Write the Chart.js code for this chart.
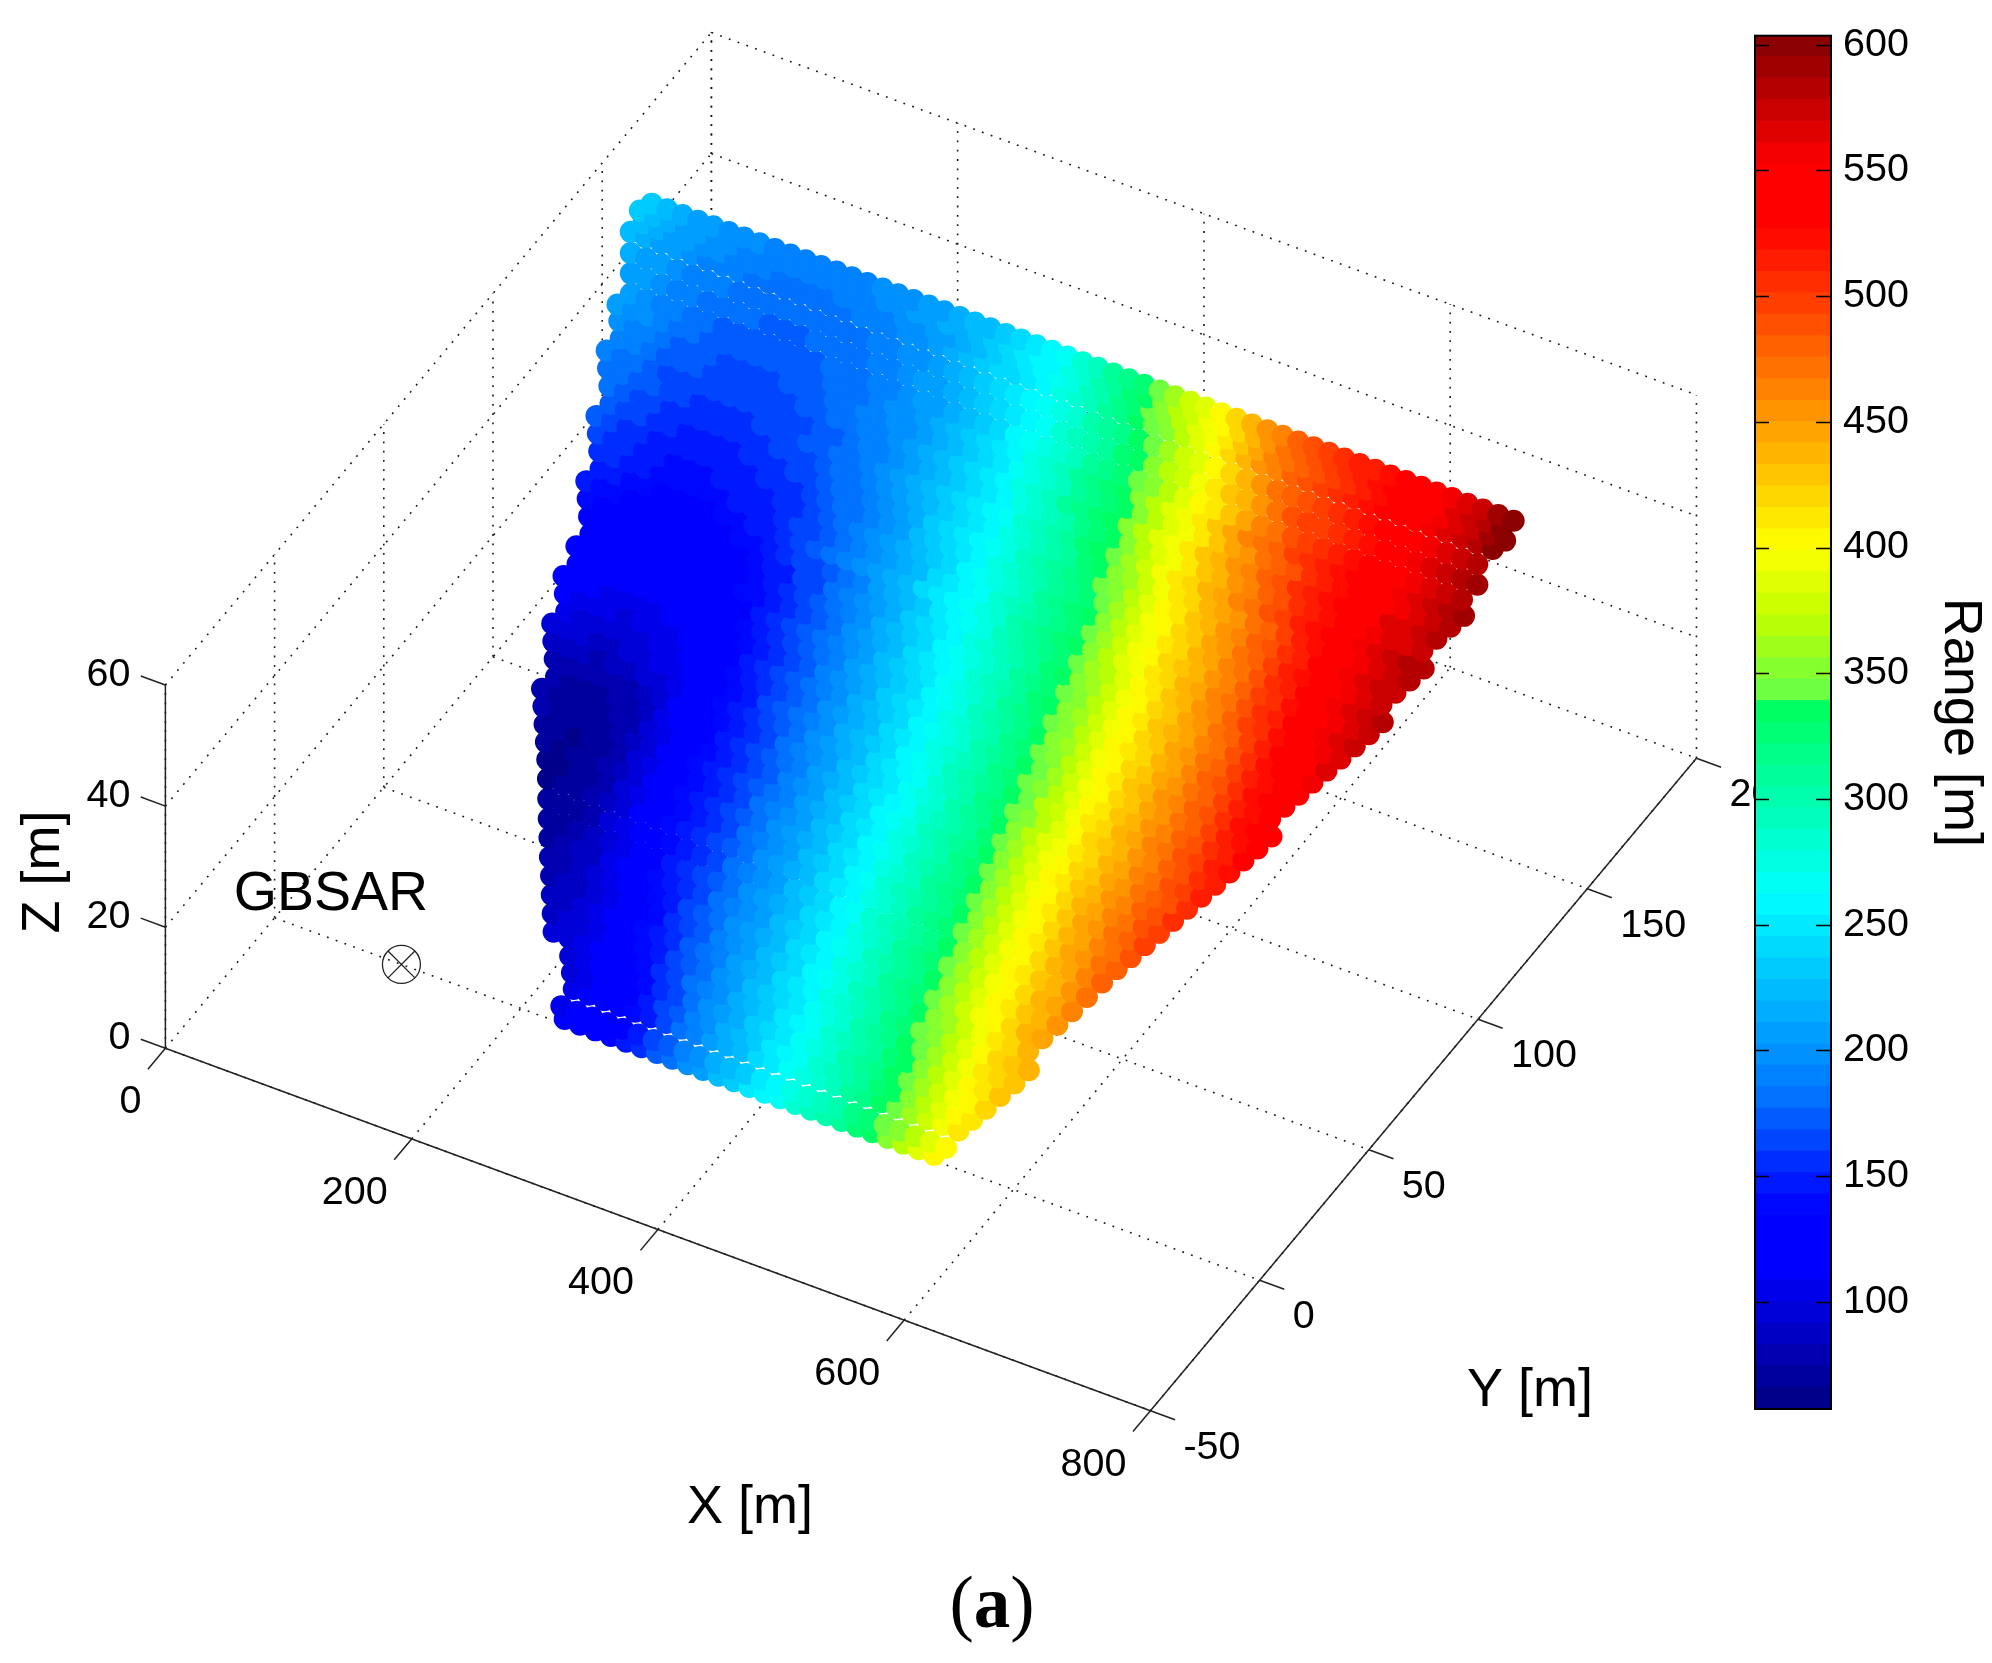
<!DOCTYPE html>
<html>
<head>
<meta charset="utf-8">
<title>GBSAR range</title>
<style>
body { margin: 0; background: #fff; }
#wrap { position: relative; width: 1992px; height: 1663px; overflow: hidden; }
#wrap canvas { position: absolute; top: 0; }
#plot3d { left: 0; }
#colorbar { left: 1740px; }
</style>
<script src="https://cdn.jsdelivr.net/npm/chart.js@4"></script>
</head>
<body>
<div id="wrap">
<canvas id="plot3d" width="1992" height="1663"></canvas>
<canvas id="colorbar" width="252" height="1663"></canvas>
</div>
<script>
// Axis ticks
const xTicks = [0, 200, 400, 600, 800];
const yTicks = [-50, 0, 50, 100, 150, 200];
const zTicks = [0, 20, 40, 60];
const rangeTicks = [100, 150, 200, 250, 300, 350, 400, 450, 500, 550, 600];

// GBSAR position [X, Y, Z]
const gbsar = [103, 0, 0];

// Scan rows: Y and Z of each row, X of its first point, metres between points
const stepX = 12.5;
const rowY = [0.9,2.9,6.6,9.3,12,15,18.1,21.2,24.4,27.4,30.7,33.9,37.2,40.6,43.8,46.7,49.6,52.6,55.5,58.4,61.3,64.2,67.2,70.1,73,75.9,78.8,81.8,84.7,87.6,90.5,93.4,96.4,99.3,102.2,105.1,108,111,113.9,116.8,119.7,122.6,125.3,127.9,131.4,134.9,138.4,140.6,142.6,144.5];
const rowZ = [0.4,1.2,2.7,3.8,4.9,6.2,7.4,8.7,10,11.3,12.6,13.9,15.3,16.7,18,19.2,20.4,21.6,22.8,24,25.2,26.4,27.6,28.8,30,31.2,32.4,33.6,34.8,36,37.2,38.4,39.6,40.8,42,43.2,44.4,45.6,46.8,48,49.2,50.4,51.5,52.6,54,55.4,56.9,57.8,58.6,59.4];
const rowX0 = [234,227.75,231.25,225,218.75,200,193.75,187.5,181.25,175,168.75,162.5,156.25,150,143.75,137.5,131.25,125,118.75,125,118.75,112.5,106.25,112.5,106.25,100,106.25,100,106.25,100,93.75,87.5,93.75,87.5,81.25,75,81.25,75,68.75,62.5,68.75,62.5,56.25,62.5,56.25,50,43.75,50,43.75,50];

// Range [m] of each point, row by row from the bottom edge
const rowRange = [
[109,115,122,130,143,157,171,185,198,210,222,234,246,258,269,280,291,302,313,325,338,352,368,384,400],
[106,112,117,124,133,147,160,174,188,200,212,224,236,248,260,271,282,293,304,316,328,341,355,371,388,404],
[106,112,120,127,137,150,164,178,191,204,216,228,240,252,263,274,285,296,307,319,331,345,360,376,392,408],
[100,107,115,123,133,146,160,173,187,200,212,224,236,247,258,269,280,291,302,313,325,338,352,368,384,400,415],
[97,103,111,119,129,141,155,168,182,195,207,219,231,242,253,264,275,286,297,308,319,331,345,360,377,393,407,420],
[92,97,103,110,118,129,140,153,165,178,190,202,213,225,236,247,258,269,280,291,302,313,325,338,352,368,385,400,413,427],
[88,93,100,107,116,126,137,150,161,172,185,197,208,220,231,242,253,264,275,286,297,308,320,332,346,361,378,394,408,420,431],
[84,90,97,106,115,125,136,146,158,169,181,192,204,215,226,237,248,259,271,282,292,303,314,325,340,354,371,388,403,416,428,440],
[79,84,91,99,108,118,129,141,153,165,176,188,199,210,221,232,243,254,265,277,288,299,310,321,335,348,364,381,396,410,423,436],
[76,80,87,95,104,115,127,139,150,161,172,183,194,205,216,227,238,249,260,272,283,294,305,315,326,342,357,374,391,406,419,433,446],
[74,77,84,91,101,113,125,136,147,158,168,178,189,200,211,222,233,244,256,267,279,290,300,310,321,334,350,367,384,399,413,426,440,453],
[70,73,78,86,95,108,120,132,143,153,163,173,184,194,205,216,227,238,249,261,273,285,295,305,315,326,342,358,375,392,407,421,434,448,461],
[67,70,74,82,92,103,116,128,139,149,158,168,178,189,200,210,221,232,243,255,268,280,291,300,310,320,333,350,367,384,400,414,428,441,455,468],
[64,66,71,77,86,99,112,125,136,146,154,164,173,184,194,205,215,226,237,249,262,274,285,296,305,315,325,342,358,375,392,407,421,435,449,463,476],
[65,63,67,73,81,93,108,120,132,142,150,159,168,178,189,199,210,220,231,243,256,268,280,291,300,310,320,333,350,367,384,400,414,429,443,456,470,482],
[67,64,66,71,78,86,99,113,125,136,146,154,163,172,183,194,204,215,226,237,249,262,274,285,296,305,315,325,342,358,375,392,407,421,435,449,462,475,487],
[71,67,65,68,74,82,92,106,119,130,141,149,158,167,177,188,199,210,220,231,243,255,267,279,291,300,310,320,333,350,367,384,400,414,428,442,455,468,481,493],
[76,71,66,67,72,79,87,98,112,123,135,145,153,162,171,182,193,204,215,226,237,248,260,272,283,294,304,314,325,341,358,375,392,406,420,433,447,460,473,486,498],
[78,74,69,67,69,75,83,92,106,118,129,140,149,157,166,176,187,198,209,220,231,242,254,265,277,289,299,309,320,333,350,367,384,400,413,427,440,453,466,479,492,504],
[76,71,68,71,76,82,90,101,112,123,134,143,152,161,170,181,192,203,215,226,237,247,258,269,280,291,302,313,325,341,358,375,392,405,418,431,443,456,468,480,492,505],
[83,79,76,75,78,83,90,99,110,120,131,140,149,158,167,177,188,199,210,220,232,242,253,264,275,286,297,308,319,332,349,366,383,398,411,424,436,449,462,475,488,501,514],
[90,87,84,83,84,87,93,98,107,115,125,136,145,154,163,172,183,194,205,216,227,238,248,259,270,281,292,303,314,325,340,356,373,390,403,416,428,441,454,467,480,492,505,518],
[100,97,93,91,91,93,96,101,108,115,124,133,142,151,160,170,180,191,201,212,223,234,244,255,266,277,288,299,310,321,331,347,365,381,396,409,421,434,447,460,473,486,499,512,526],
[105,100,98,96,97,99,102,106,112,120,129,138,147,156,165,174,185,196,207,217,228,238,249,260,271,282,293,304,315,326,340,355,372,389,401,414,426,439,452,465,478,491,505,518,531],
[110,105,103,101,100,102,104,107,111,117,125,134,143,153,161,170,180,191,202,213,223,233,243,254,265,276,287,298,309,320,333,347,363,380,395,407,419,431,444,457,471,484,498,512,526,538],
[116,113,109,107,106,106,108,110,113,117,123,132,141,150,159,167,176,186,197,208,219,229,239,250,261,272,283,294,304,315,326,340,354,371,388,401,413,425,437,450,463,477,490,504,519,532,543],
[117,114,112,111,111,112,114,116,119,123,130,138,147,156,164,172,182,192,203,214,225,235,245,256,267,278,289,300,311,321,333,348,363,379,394,406,418,431,443,456,470,483,497,511,526,540],
[124,121,118,116,115,115,116,118,119,122,128,134,143,152,161,169,178,188,199,210,221,231,241,252,263,274,285,295,305,316,326,341,355,371,387,400,412,424,437,449,462,476,490,504,519,533,546],
[126,123,121,120,120,121,122,123,125,129,135,141,150,158,166,175,184,195,206,217,228,238,248,259,270,281,291,301,312,322,334,348,363,379,393,405,418,430,443,456,469,483,497,511,526,540,551],
[130,127,124,121,118,118,119,120,122,127,133,139,146,155,164,172,181,191,201,212,223,233,244,254,264,275,286,296,306,316,327,341,356,372,388,400,412,425,437,449,461,475,489,504,520,534,546,557],
[136,133,130,127,123,122,122,123,125,128,133,139,144,151,160,168,177,186,196,207,218,229,240,251,261,271,282,292,302,312,322,334,349,364,380,394,406,418,431,444,456,469,483,498,513,527,540,551,562],
[146,141,137,133,129,127,127,128,130,132,135,140,146,152,160,168,176,184,193,203,214,225,236,247,258,268,279,289,299,309,319,329,342,357,373,389,401,413,426,439,452,465,479,493,507,521,535,547,558,566],
[148,145,141,137,133,132,132,134,137,141,145,149,155,162,170,178,186,195,205,215,226,237,248,259,268,277,287,297,307,317,326,337,351,367,384,397,410,423,435,448,461,474,489,503,517,530,542,553,563,572],
[158,153,149,146,141,138,138,139,141,143,147,151,156,160,167,174,182,190,199,208,218,228,239,250,260,270,280,290,300,310,319,328,343,358,375,392,404,416,428,441,454,467,481,495,509,522,535,547,558,568,577],
[163,157,153,149,144,141,140,141,143,144,147,150,154,158,164,171,179,186,195,204,213,223,233,245,256,265,275,286,296,305,315,324,336,350,366,384,398,410,422,435,447,461,474,488,502,515,529,541,553,563,572,581],
[170,164,159,155,150,146,144,144,145,147,149,152,155,159,163,169,177,184,192,201,210,220,230,241,252,262,271,281,291,301,311,320,330,344,360,377,393,405,418,430,442,455,468,482,496,510,523,535,547,558,568,576],
[170,165,161,157,153,149,148,148,150,152,155,158,161,165,171,178,185,192,200,209,219,229,240,250,260,269,279,289,299,309,319,329,340,355,371,388,402,415,427,439,451,464,477,491,505,518,531,542,553,563,571,577],
[177,171,166,162,158,155,153,153,154,156,158,161,164,168,172,178,184,191,196,205,214,224,232,243,252,262,272,282,292,303,312,323,333,348,364,380,395,409,422,434,446,458,471,484,498,511,524,536,547,558,566,572,578],
[184,178,173,169,165,161,158,157,157,159,161,163,166,170,174,179,185,191,196,205,213,222,231,241,251,260,270,280,291,301,311,322,332,346,362,379,394,408,422,436,448,461,474,487,500,513,526,537,548,558,566,572,578,583],
[190,182,177,172,168,165,162,160,160,160,161,162,165,168,171,175,180,186,192,198,206,214,223,232,241,251,261,271,281,292,303,314,324,335,351,368,382,396,413,430,441,452,464,477,490,504,515,525,535,545,554,563,569,574],
[192,186,181,176,172,169,166,164,164,164,165,167,170,173,177,182,188,193,199,207,215,224,233,243,252,262,272,283,294,305,315,326,337,351,368,383,396,412,429,441,452,465,477,490,502,513,522,532,543,552,561,568,575,581],
[199,192,186,181,176,173,170,168,167,167,168,169,171,174,178,181,186,190,196,201,209,217,226,234,244,253,263,273,284,295,306,316,327,338,354,370,384,398,414,431,443,456,469,481,492,503,513,522,531,542,551,560,568,576,584],
[207,200,194,189,183,178,175,172,170,170,170,171,173,175,178,181,185,190,195,200,208,216,224,233,243,252,262,272,283,294,305,316,327,338,352,369,384,398,414,431,445,459,472,484,495,503,512,521,530,539,549,558,566,575,583,590],
[205,199,192,187,182,178,175,173,172,172,173,173,175,178,180,183,188,192,197,203,211,219,227,236,245,254,264,274,285,296,307,318,329,340,356,372,386,399,415,432,448,463,475,486,496,503,511,520,529,540,549,558,566,575,584],
[211,204,197,192,187,184,181,179,177,176,176,176,177,179,182,184,188,192,197,203,209,217,225,234,243,252,260,270,280,291,302,313,325,336,349,365,380,394,408,425,441,457,472,485,493,500,508,516,524,534,545,554,562,571,580,589],
[218,211,204,198,193,189,186,183,181,180,179,179,179,180,182,185,187,191,195,200,207,214,222,230,239,247,255,266,276,287,298,310,321,332,345,360,376,390,403,420,437,453,468,481,490,498,506,513,520,528,538,548,557,566,576,586],
[226,218,210,204,198,193,190,187,185,183,182,182,182,183,185,187,190,193,197,202,207,214,221,229,237,245,253,262,272,283,295,307,319,332,343,356,372,388,403,418,434,450,466,480,490,498,506,513,520,527,535,545,555,565,575,586,596],
[226,217,210,203,198,195,191,189,187,185,185,185,185,186,188,190,193,197,200,205,211,217,224,231,239,247,255,266,278,290,302,314,325,340,354,369,384,398,411,427,444,460,472,482,492,500,509,516,522,528,535,544,554,565,576,589,600],
[233,225,217,210,205,200,196,193,191,190,189,189,189,190,191,193,195,199,203,208,213,219,225,232,239,247,254,262,275,287,299,311,323,338,352,366,381,393,406,422,439,456,470,481,491,499,507,515,521,527,533,541,551,562,574,586,598],
[232,224,216,210,205,201,197,194,192,191,190,190,190,191,193,195,197,201,205,210,215,221,227,233,240,248,256,268,281,293,306,317,328,345,362,376,390,403,416,435,454,466,478,487,495,504,512,517,522,528,534,543,553,565,577,590,603]
];

// Colour map: [range, r, g, b]
const colourStops = [[57,0,0,128],[113,0,0,255],[135,0,0,255],[150,0,30,255],[179,0,110,255],[262,0,255,255],[339,0,255,90],[340,100,255,75],[371,190,255,0],[400,255,255,0],[528,255,0,0],[552,255,0,0],[604,128,0,0]];
const rangeMin = 57.4;
const rangeMax = 603.6;
const levelCount = 64;

function levelColour(level) {
    const v = rangeMin + (level + 0.5) * (rangeMax - rangeMin) / levelCount;
    let i = 0;
    while (i < colourStops.length - 2 && v > colourStops[i + 1][0]) i++;
    const a = colourStops[i], b = colourStops[i + 1];
    const f = Math.min(1, Math.max(0, (v - a[0]) / (b[0] - a[0])));
    const mix = k => Math.round(a[k] + (b[k] - a[k]) * f);
    return `rgb(${mix(1)},${mix(2)},${mix(3)})`;
}

function rangeColour(r) {
    const level = Math.floor((r - rangeMin) / (rangeMax - rangeMin) * levelCount);
    return levelColour(Math.min(levelCount - 1, Math.max(0, level)));
}

// Fixed view of the 3D box, turned into the flat coordinates of the chart
function project(X, Y, Z) {
    return {
        x: 165.4 + 1.2313 * X + 2.184 * (Y + 50),
        y: 1048.3 + 0.453 * X - 2.61 * (Y + 50) - 6.055 * Z
    };
}

const datasets = [];

function addLine(a, b, dotted) {
    datasets.push({
        type: 'scatter',
        showLine: true,
        data: [project(a[0], a[1], a[2]), project(b[0], b[1], b[2])],
        borderColor: dotted ? '#1a1a1a' : '#222',
        borderWidth: dotted ? 1.6 : 1.5,
        borderDash: dotted ? [1.8, 7.5] : [],
        pointRadius: 0,
        order: dotted ? 5 : 4
    });
}

const xMax = xTicks[xTicks.length - 1], yMin = yTicks[0], yMax = yTicks[yTicks.length - 1], zMax = zTicks[zTicks.length - 1];

// Grid on the floor and on the two back walls
xTicks.forEach(x => {
    addLine([x, yMin, 0], [x, yMax, 0], true);
    addLine([x, yMax, 0], [x, yMax, zMax], true);
});
yTicks.forEach(y => {
    addLine([0, y, 0], [xMax, y, 0], true);
    addLine([0, y, 0], [0, y, zMax], true);
});
zTicks.forEach(z => {
    if (z === 0) return;
    addLine([0, yMin, z], [0, yMax, z], true);
    addLine([0, yMax, z], [xMax, yMax, z], true);
});

// Axes and tick marks
addLine([0, yMin, 0], [xMax, yMin, 0], false);
addLine([xMax, yMin, 0], [xMax, yMax, 0], false);
addLine([0, yMin, 0], [0, yMin, zMax], false);
xTicks.forEach(x => addLine([x, yMin, 0], [x, yMin - 8, 0], false));
yTicks.forEach(y => addLine([xMax, y, 0], [xMax + 20, y, 0], false));
zTicks.forEach(z => addLine([0, yMin, z], [-20, yMin, z], false));

// Point cloud
const cloudPoints = [];
const cloudColours = [];
rowRange.forEach((row, i) => {
    row.forEach((r, j) => {
        cloudPoints.push(project(rowX0[i] + j * stepX, rowY[i], rowZ[i]));
        cloudColours.push(rangeColour(r));
    });
});
datasets.push({
    type: 'scatter',
    data: cloudPoints,
    pointRadius: 11,
    pointBorderWidth: 0,
    pointBackgroundColor: cloudColours,
    order: 3
});

// GBSAR marker
const gbsarPoint = project(gbsar[0], gbsar[1], gbsar[2]);
['circle', 'crossRot'].forEach(style => {
    datasets.push({
        type: 'scatter',
        data: [gbsarPoint],
        pointStyle: style,
        pointRadius: 19,
        pointBorderWidth: 1.3,
        pointBorderColor: '#222',
        pointBackgroundColor: 'rgba(0,0,0,0)',
        order: 2
    });
});

const sansFont = '"Liberation Sans", Arial, sans-serif';

// Tick labels and titles of the 3D box
const textPlugin = {
    id: 'boxText',
    afterDraw(chart) {
        const ctx = chart.ctx;
        const sx = v => chart.scales.x.getPixelForValue(v);
        const sy = v => chart.scales.y.getPixelForValue(v);
        const put = (text, x, y, align) => {
            ctx.textAlign = align;
            ctx.fillText(text, x, y);
        };
        ctx.save();
        ctx.fillStyle = '#000';
        ctx.textBaseline = 'middle';
        ctx.font = '39.5px ' + sansFont;
        xTicks.forEach(t => {
            const p = project(t, yMin, 0);
            put(String(t), sx(p.x) - 24, sy(p.y) + 54, 'right');
        });
        yTicks.forEach(t => {
            const p = project(xMax, t, 0);
            put(String(t), sx(p.x) + 33, sy(p.y) + 37, 'left');
        });
        zTicks.forEach(t => {
            const p = project(0, yMin, t);
            put(String(t), sx(p.x) - 35, sy(p.y) - 10, 'right');
        });
        ctx.font = '54px ' + sansFont;
        put('X [m]', 750, 1508, 'center');
        put('Y [m]', 1530, 1391, 'center');
        ctx.save();
        ctx.translate(44, 872);
        ctx.rotate(-Math.PI / 2);
        put('Z [m]', 0, 0, 'center');
        ctx.restore();
        ctx.font = '55.5px ' + sansFont;
        put('GBSAR', 331, 895, 'center');

        // (a) caption, bold letter between plain brackets
        ctx.textBaseline = 'alphabetic';
        ctx.textAlign = 'left';
        const plain = '73px "Liberation Serif", "Times New Roman", serif';
        const bold = 'bold ' + plain;
        ctx.font = plain;
        const bracketL = ctx.measureText('(').width, bracketR = ctx.measureText(')').width;
        ctx.font = bold;
        const letter = ctx.measureText('a').width;
        let x = 992 - (bracketL + letter + bracketR) / 2;
        ctx.font = plain;
        ctx.fillText('(', x, 1627);
        x += bracketL;
        ctx.font = bold;
        ctx.fillText('a', x, 1627);
        x += letter;
        ctx.font = plain;
        ctx.fillText(')', x, 1627);
        ctx.restore();
    }
};

new Chart(document.getElementById('plot3d'), {
    type: 'scatter',
    data: { datasets: datasets },
    options: {
        responsive: false,
        devicePixelRatio: 1,
        animation: false,
        events: [],
        layout: { padding: 0, autoPadding: false },
        plugins: { legend: { display: false }, tooltip: { enabled: false } },
        scales: {
            x: { type: 'linear', display: false, min: 0, max: 1992 },
            y: { type: 'linear', display: false, min: 0, max: 1663, reverse: true }
        }
    },
    plugins: [textPlugin]
});

// Colour bar: one floating bar per colour level
const levelData = [];
for (let i = 0; i < levelCount; i++) {
    const lo = rangeMin + i * (rangeMax - rangeMin) / levelCount;
    const hi = rangeMin + (i + 1) * (rangeMax - rangeMin) / levelCount;
    levelData.push({
        data: [[lo, Math.min(rangeMax, hi + 0.2)]],
        backgroundColor: levelColour(i),
        borderWidth: 0
    });
}

const framePlugin = {
    id: 'barFrame',
    afterDatasetsDraw(chart) {
        const ctx = chart.ctx, a = chart.chartArea, y = chart.scales.y;
        ctx.save();
        ctx.strokeStyle = '#000';
        ctx.lineWidth = 1.5;
        rangeTicks.forEach(t => {
            const py = Math.round(y.getPixelForValue(t)) + 0.5;
            ctx.beginPath();
            ctx.moveTo(a.left, py);
            ctx.lineTo(a.left + 14, py);
            ctx.moveTo(a.right - 15, py);
            ctx.lineTo(a.right, py);
            ctx.stroke();
        });
        ctx.lineWidth = 2;
        ctx.strokeRect(a.left, a.top, a.right - a.left, a.bottom - a.top);
        ctx.restore();
    }
};

new Chart(document.getElementById('colorbar'), {
    type: 'bar',
    data: { labels: ['Range'], datasets: levelData },
    options: {
        responsive: false,
        devicePixelRatio: 1,
        animation: false,
        events: [],
        layout: { padding: { left: 15, top: 33, bottom: 254, right: 0 } },
        plugins: { legend: { display: false }, tooltip: { enabled: false } },
        datasets: { bar: { grouped: false, barPercentage: 1, categoryPercentage: 1 } },
        scales: {
            x: { display: false },
            y: {
                position: 'right',
                min: rangeMin,
                max: rangeMax,
                afterBuildTicks: s => { s.ticks = rangeTicks.map(v => ({ value: v })); },
                afterFit: s => { s.width = 161; },
                grid: { display: false, drawTicks: false },
                border: { display: false },
                ticks: {
                    color: '#000',
                    padding: 12,
                    autoSkip: false,
                    maxRotation: 0,
                    font: { family: sansFont, size: 39.5 }
                },
                title: {
                    display: true,
                    text: 'Range [m]',
                    color: '#000',
                    padding: { top: 0, bottom: 22 },
                    font: { family: sansFont, size: 54, weight: 'normal' }
                }
            }
        }
    },
    plugins: [framePlugin]
});
</script>
</body>
</html>
